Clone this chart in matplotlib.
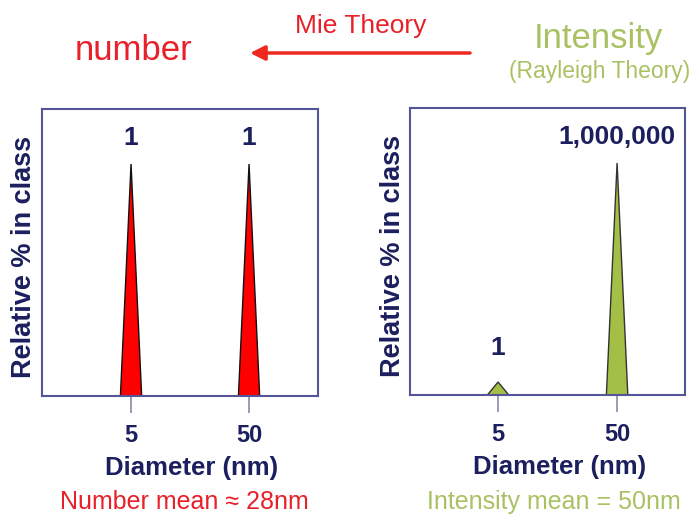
import numpy as np
import matplotlib.pyplot as plt

plt.rcParams['font.family'] = ['Liberation Sans', 'DejaVu Sans']

# peak positions (nm) and what each panel shows
sizes = [5, 50]
number_heights = [1.0, 1.0]
number_labels = ['1', '1']
intensity_heights = [0.056, 1.0]
intensity_labels = ['1', '1,000,000']

navy = '#1b1f5e'
red_txt = '#e8202a'
green_txt = '#a8c263'
spine_col = '#55559a'


def triangle(center, height, half=0.09):
    # a narrow peak in log space
    lc = np.log10(center)
    xs = [10 ** (lc - half), center, 10 ** (lc + half)]
    ys = [0, height, 0]
    return xs, ys


def draw_panel(ax, heights, labels, fill, edge, xlim, ylab_x):
    for s, h, lab in zip(sizes, heights, labels):
        xs, ys = triangle(s, h)
        ax.fill(xs, ys, facecolor=fill, edgecolor=edge, linewidth=1)
        pad = 10 if h > 0.5 else 16
        ax.annotate(lab, (s, h), xytext=(0, pad), textcoords='offset points',
                    ha='center', va='bottom', fontsize=19, fontweight='bold',
                    color=navy)
    ax.set_xscale('log')
    ax.set_xlim(*xlim)
    ax.set_ylim(0, 1.237)
    ax.set_yticks([])
    ax.set_xticks(sizes)
    ax.set_xticklabels([str(s) for s in sizes])
    ax.minorticks_off()
    ax.tick_params(axis='x', direction='out', length=12, width=1.2,
                   color='#8a8aaa', pad=8, labelsize=17, labelcolor=navy)
    for t in ax.get_xticklabels():
        t.set_fontweight('bold')
    for sp in ax.spines.values():
        sp.set_color(spine_col)
        sp.set_linewidth(1.5)
    ax.set_xlabel('Diameter (nm)', fontsize=18.5, fontweight='bold', color=navy,
                  va='center')
    ax.xaxis.set_label_coords(0.543, -0.25)
    ax.set_ylabel('Relative % in class', fontsize=19.5, fontweight='bold',
                  color=navy, va='center')
    ax.yaxis.set_label_coords(ylab_x, 0.484)


fig = plt.figure(figsize=(6.96, 5.17), dpi=100)
W, H = 696, 517

ax1 = fig.add_axes([42 / W, 1 - 396 / H, 276 / W, 287 / H])
ax2 = fig.add_axes([410 / W, 1 - 395 / H, 275 / W, 287 / H])

draw_panel(ax1, number_heights, number_labels, '#ff0000', '#111111',
           (0.88, 192), -0.065)
draw_panel(ax2, intensity_heights, intensity_labels, '#a3bf45', '#333333',
           (0.91, 186), -0.062)

# header
fig.text(134 / W, 1 - 60 / H, 'number', ha='center', va='baseline',
         fontsize=25, color=red_txt)
fig.text(361 / W, 1 - 33 / H, 'Mie Theory', ha='center', va='baseline',
         fontsize=19, color=red_txt)
fig.text(598 / W, 1 - 48 / H, 'Intensity', ha='center', va='baseline',
         fontsize=25, color=green_txt)
fig.text(600 / W, 1 - 78 / H, '(Rayleigh Theory)', ha='center', va='baseline',
         fontsize=16.5, color=green_txt)
ax1.annotate('', xy=(250 / W, 1 - 53 / H), xycoords='figure fraction',
             xytext=(470 / W, 1 - 53 / H), textcoords='figure fraction',
             arrowprops=dict(arrowstyle='-|>', color='#ee2a20', lw=2.5,
                             mutation_scale=22, shrinkA=0, shrinkB=0),
             annotation_clip=False)

# footer
fig.text(184 / W, 1 - 509 / H, 'Number mean \u2248 28nm', ha='center',
         va='baseline', fontsize=18, color=red_txt)
fig.text(554 / W, 1 - 509 / H, 'Intensity mean = 50nm', ha='center',
         va='baseline', fontsize=18, color=green_txt)

fig.savefig('out.png', dpi=100)
